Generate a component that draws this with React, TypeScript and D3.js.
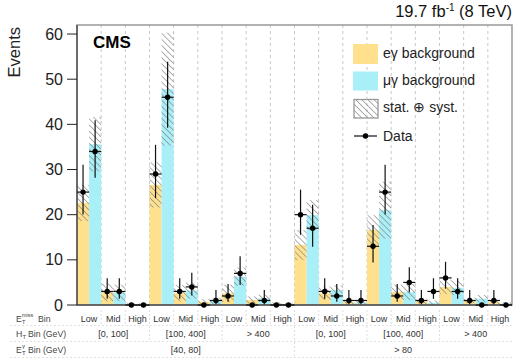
import React from "react";
import * as d3 from "d3";

const width = 515;
const height = 364;
const plotLeft = 77;
const plotRight = 512;
const plotTop = 25;
const plotBottom = 305;

// bin labels
const metBins = ["Low", "Mid", "High"];
const htBins = ["[0, 100]", "[100, 400]", "> 400"];
const etBins = ["[40, 80]", "> 80"];
const yTicks = [0, 10, 20, 30, 40, 50, 60];

// e-gamma background (and its stat+syst uncertainty)
const egBkg = [22.6, 2.8, 0.2, 26.6, 2.6, 0.7, 2.6, 1.1, 0.3, 13.3, 2.6, 0.6, 16.6, 2.9, 0.8, 4.0, 1.0, 0.6];
const egUnc = [4.0, 2.0, 0.3, 5.0, 1.8, 0.6, 1.9, 0.8, 0.3, 3.3, 1.5, 0.5, 3.3, 1.6, 0.6, 1.6, 0.6, 0.5];
// mu-gamma background
const mgBkg = [35.6, 2.7, 0.2, 47.8, 3.2, 0.9, 6.3, 1.5, 0.2, 19.9, 3.3, 0.5, 21.0, 2.9, 0.5, 3.8, 1.4, 0.3];
const mgUnc = [6.0, 1.8, 0.2, 12.5, 1.8, 0.7, 2.0, 0.8, 0.2, 3.3, 1.0, 0.4, 6.3, 1.8, 0.5, 1.6, 0.8, 0.3];

// observed data and its asymmetric errors
const egData = [25, 3, 0, 29, 3, 0, 2, 0, 0, 20, 3, 1, 13, 2, 1, 6, 1, 1];
const egErrLo = [4.95, 1.63, 0, 5.35, 1.63, 0, 1.29, 0, 0, 4.44, 1.63, 0.83, 3.58, 1.29, 0.83, 2.38, 0.83, 0.83];
const egErrHi = [6.08, 2.92, 0, 6.47, 2.92, 0, 2.64, 0, 0, 5.55, 2.92, 2.3, 4.71, 2.64, 2.3, 3.58, 2.3, 2.3];
const mgData = [34, 3, 0, 46, 4, 1, 7, 1, 0, 17, 2, 1, 25, 5, 3, 3, 0, 0];
const mgErrLo = [5.8, 1.63, 0, 6.77, 1.91, 0.83, 2.58, 0.83, 0, 4.11, 1.29, 0.83, 4.95, 2.16, 1.63, 1.63, 0, 0];
const mgErrHi = [6.92, 2.92, 0, 7.84, 3.16, 2.3, 3.77, 2.3, 0, 5.22, 2.64, 2.3, 6.08, 3.38, 2.92, 2.92, 0, 0];

const egColor = "#FFE08C";
const mgColor = "#A9EFF8";
const font = "'Liberation Sans', Arial, sans-serif";

const series = [
  { key: "eg", bkg: egBkg, unc: egUnc, data: egData, lo: egErrLo, hi: egErrHi, color: egColor },
  { key: "mg", bkg: mgBkg, unc: mgUnc, data: mgData, lo: mgErrLo, hi: mgErrHi, color: mgColor },
];

const nBins = etBins.length * htBins.length * metBins.length;

const x = d3.scaleBand<number>().domain(d3.range(nBins)).range([plotLeft, plotRight]);
const sub = d3.scaleBand<string>().domain(["eg", "mg"]).range([0, x.bandwidth()]);
const y = d3.scaleLinear().domain([0, 62]).range([plotBottom, plotTop]);

const bw = x.bandwidth();

export default function App() {
  const row1 = 321.5;
  const row2 = 336.5;
  const row3 = 353;
  const labelColor = "#333";

  return (
    <svg width={width} height={height} style={{ position: "absolute", left: 0, top: 0 }} fontFamily={font}>
      <defs>
        <pattern id="hatch" patternUnits="userSpaceOnUse" width={4.3} height={4.3} patternTransform="rotate(-45)">
          <line x1={0} y1={0} x2={0} y2={4.3} stroke="#858585" strokeWidth={1.3} />
        </pattern>
      </defs>
      <rect width={width} height={height} fill="white" />

      {/* dashed bin separators */}
      {d3.range(1, nBins).map((i) => (
        <line key={"g" + i} x1={x(i)} x2={x(i)} y1={plotTop} y2={plotBottom} stroke="#c8c8c8" strokeDasharray="3,3" />
      ))}

      {/* background bars */}
      {series.map((s) =>
        s.bkg.map((v, i) => (
          <rect key={s.key + "b" + i} x={x(i)! + sub(s.key)!} width={sub.bandwidth()} y={y(v)} height={y(0) - y(v)} fill={s.color} />
        ))
      )}
      {/* uncertainty hatch */}
      {series.map((s) =>
        s.bkg.map((v, i) => {
          const top = Math.min(v + s.unc[i], 62);
          const bot = Math.max(v - s.unc[i], 0);
          return (
            <rect key={s.key + "u" + i} x={x(i)! + sub(s.key)!} width={sub.bandwidth()} y={y(top)} height={y(bot) - y(top)} fill="url(#hatch)" />
          );
        })
      )}

      {/* frame */}
      <rect x={plotLeft} y={plotTop} width={plotRight - plotLeft} height={plotBottom - plotTop} fill="none" stroke="#999" strokeWidth={1.5} />
      <line x1={plotLeft} x2={plotLeft} y1={plotTop} y2={plotBottom} stroke="#222" />
      <line x1={plotLeft} x2={plotRight} y1={plotBottom} y2={plotBottom} stroke="#222" />

      {/* data */}
      {series.map((s) =>
        s.data.map((v, i) => {
          const x0 = x(i)! + sub(s.key)!;
          const cx = x0 + sub.bandwidth() / 2;
          return (
            <g key={s.key + "d" + i}>
              <line x1={x0} x2={x0 + sub.bandwidth()} y1={y(v)} y2={y(v)} stroke="#111" strokeWidth={1.2} />
              {v > 0 && <line x1={cx} x2={cx} y1={y(v + s.hi[i])} y2={y(v - s.lo[i])} stroke="#111" strokeWidth={1.2} />}
              <circle cx={cx} cy={y(v)} r={2.7} fill="black" />
            </g>
          );
        })
      )}

      {/* y axis */}
      {yTicks.map((t) => (
        <g key={"t" + t}>
          <line x1={plotLeft - 10} x2={plotLeft} y1={y(t)} y2={y(t)} stroke="#222" />
          <text x={plotLeft - 14} y={y(t) + 5.5} textAnchor="end" fontSize={16} fill="#222">
            {t}
          </text>
        </g>
      ))}
      <text transform="translate(20,27) rotate(-90)" textAnchor="end" fontSize={16.5} fill="#222">
        Events
      </text>

      <text x={93} y={47.5} fontSize={17} fontWeight="bold" fill="black">
        CMS
      </text>
      <text x={512} y={17} textAnchor="end" fontSize={16.5} fill="#111">
        19.7 fb<tspan fontSize={10} dy={-6}>-1</tspan>
        <tspan dy={6}> (8 TeV)</tspan>
      </text>

      {/* legend */}
      <rect x={353} y={44} width={25} height={20} fill={egColor} />
      <text x={383} y={57.5} fontSize={14} fill="#222">eγ background</text>
      <rect x={353} y={71.5} width={25} height={19} fill={mgColor} />
      <text x={383} y={85} fontSize={14} fill="#222">μγ background</text>
      <rect x={354} y={99.5} width={24} height={18.5} fill="url(#hatch)" stroke="#999" strokeWidth={1.3} />
      <text x={383} y={112} fontSize={14} fill="#222">stat. ⊕ syst.</text>
      <line x1={354} x2={377} y1={136} y2={136} stroke="#111" strokeWidth={1.2} />
      <circle cx={365.5} cy={136} r={2.7} fill="black" />
      <text x={383} y={141} fontSize={14} fill="#222">Data</text>

      {/* bin labels under the axis */}
      {d3.range(nBins).map((i) => (
        <text key={"m" + i} x={x(i)! + bw / 2} y={row1} textAnchor="middle" fontSize={9} fill={labelColor}>
          {metBins[i % 3]}
        </text>
      ))}
      {d3.range(etBins.length * htBins.length).map((j) => (
        <text key={"h" + j} x={x(j * 3)! + bw * 1.5} y={row2} textAnchor="middle" fontSize={9} fill={labelColor}>
          {htBins[j % 3]}
        </text>
      ))}
      {etBins.map((e, k) => (
        <text key={"e" + k} x={x(k * 9)! + bw * 4.5} y={row3} textAnchor="middle" fontSize={9} fill={labelColor}>
          {e}
        </text>
      ))}
      {/* separators in the label rows */}
      {d3.range(1, nBins).map((i) => (
        <line key={"s1" + i} x1={x(i)} x2={x(i)} y1={plotBottom + 5} y2={325} stroke="#ddd" strokeDasharray="2,2" />
      ))}
      {d3.range(1, 6).map((j) => (
        <line key={"s2" + j} x1={x(j * 3)} x2={x(j * 3)} y1={326} y2={341} stroke="#ddd" strokeDasharray="2,2" />
      ))}
      <line x1={x(9)} x2={x(9)} y1={342} y2={357} stroke="#ddd" strokeDasharray="2,2" />
      {[325.5, 341.5, 357.5].map((yy) => (
        <line key={"hl" + yy} x1={10} x2={plotRight} y1={yy} y2={yy} stroke="#e2e2e2" strokeDasharray="2,2" />
      ))}

      {/* row labels */}
      <g fontSize={8.7} fill="#444">
        <text x={16} y={row1}>E</text>
        <text x={22} y={row1 + 2} fontSize={5.5}>T</text>
        <text x={22} y={row1 - 5} fontSize={5.5}>miss</text>
        <text x={38} y={row1}>Bin</text>
        <text x={16} y={row2}>H</text>
        <text x={22.5} y={row2 + 2} fontSize={6}>T</text>
        <text x={28} y={row2}>Bin (GeV)</text>
        <text x={16} y={row3}>E</text>
        <text x={22} y={row3 + 2} fontSize={6}>T</text>
        <text x={22} y={row3 - 5} fontSize={6}>γ</text>
        <text x={28} y={row3}>Bin (GeV)</text>
      </g>
    </svg>
  );
}
